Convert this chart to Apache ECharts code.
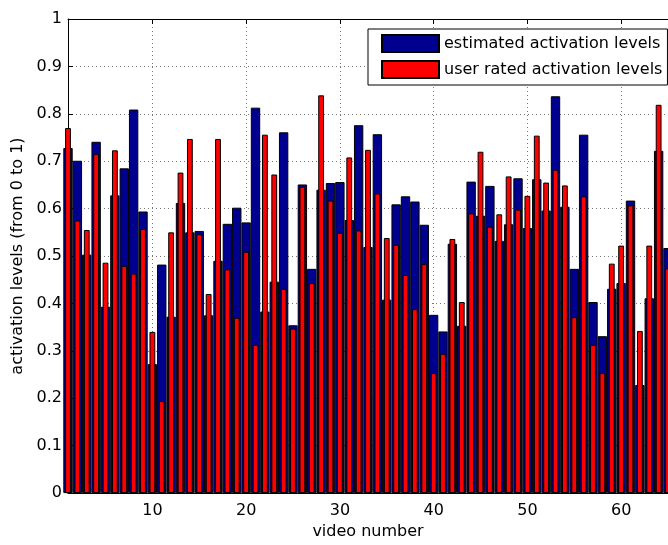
<!DOCTYPE html>
<html>
<head>
<meta charset="utf-8">
<script src="https://cdn.jsdelivr.net/npm/echarts@6/dist/echarts.min.js"></script>
<style>
html,body{margin:0;padding:0;background:#fff;}
#chart{width:668px;height:545px;}
</style>
</head>
<body>
<div id="chart"></div>
<script>
var videoNumbers = [];
for (var i = 1; i <= 65; i++) videoNumbers.push(i);

var estimated = [
  0.728, 0.701, 0.503, 0.741, 0.393, 0.628, 0.685, 0.809, 0.594, 0.272,
  0.482, 0.372, 0.612, 0.550, 0.553, 0.375, 0.490, 0.568, 0.602, 0.571,
  0.813, 0.383, 0.446, 0.761, 0.354, 0.651, 0.473, 0.640, 0.654, 0.656,
  0.576, 0.776, 0.519, 0.757, 0.408, 0.609, 0.626, 0.615, 0.566, 0.376,
  0.341, 0.526, 0.353, 0.657, 0.585, 0.648, 0.532, 0.567, 0.664, 0.559,
  0.662, 0.596, 0.837, 0.604, 0.473, 0.756, 0.403, 0.331, 0.431, 0.443,
  0.617, 0.228, 0.411, 0.722, 0.517
];

var userRated = [
  0.770, 0.575, 0.555, 0.715, 0.486, 0.723, 0.479, 0.463, 0.557, 0.340,
  0.194, 0.550, 0.676, 0.747, 0.546, 0.420, 0.747, 0.472, 0.370, 0.509,
  0.313, 0.756, 0.672, 0.431, 0.347, 0.646, 0.443, 0.839, 0.617, 0.549,
  0.708, 0.554, 0.724, 0.632, 0.538, 0.524, 0.460, 0.388, 0.483, 0.253,
  0.294, 0.536, 0.403, 0.590, 0.720, 0.562, 0.588, 0.668, 0.598, 0.627,
  0.754, 0.655, 0.682, 0.649, 0.371, 0.626, 0.313, 0.253, 0.484, 0.522,
  0.607, 0.342, 0.522, 0.819, 0.474
];

var xTicks = [10, 20, 30, 40, 50, 60];
var seriesNames = ['estimated activation levels', 'user rated activation levels'];

var FONT = 'DejaVu Sans';

function pairs(vals) {
  return vals.map(function (v, i) { return [videoNumbers[i], v]; });
}

var chart = echarts.init(document.getElementById('chart'), null, {renderer: 'canvas'});

var option = {
  animation: false,
  backgroundColor: '#fff',
  textStyle: {fontFamily: FONT},
  grid: {left: 68, right: 0, top: 19, bottom: 47, containLabel: false},
  legend: {
    orient: 'vertical',
    left: 368,
    top: 29,
    padding: [5, 5, 6, 13],
    itemGap: 7,
    itemWidth: 57,
    itemHeight: 17,
    icon: 'rect',
    backgroundColor: '#fff',
    borderColor: '#000',
    borderWidth: 1,
    borderRadius: 0,
    textStyle: {fontFamily: FONT, fontSize: 16, color: '#000'},
    data: seriesNames
  },
  xAxis: [
    {
      type: 'value',
      min: 1,
      max: 65,
      position: 'bottom',
      name: 'video number',
      nameLocation: 'middle',
      nameGap: 30,
      nameTextStyle: {fontFamily: FONT, fontSize: 16, color: '#000'},
      axisLine: {show: true, onZero: false, lineStyle: {color: '#000', width: 1}},
      axisTick: {show: true, inside: true, length: 5, customValues: xTicks, lineStyle: {color: '#000'}},
      axisLabel: {show: true, customValues: xTicks, margin: 10, fontFamily: FONT, fontSize: 16, color: '#000'},
      splitLine: {show: true, lineStyle: {type: [1, 3], color: '#777', width: 1}}
    },
    {
      type: 'value',
      min: 1,
      max: 65,
      position: 'top',
      axisLine: {show: true, onZero: false, lineStyle: {color: '#000', width: 1}},
      axisTick: {show: true, inside: true, length: 5, customValues: xTicks, lineStyle: {color: '#000'}},
      axisLabel: {show: false},
      splitLine: {show: false}
    }
  ],
  yAxis: {
    type: 'value',
    min: 0,
    max: 1,
    interval: 0.1,
    name: 'activation levels (from 0 to 1)',
    nameLocation: 'middle',
    nameGap: 40,
    nameTextStyle: {fontFamily: FONT, fontSize: 16, color: '#000'},
    axisLine: {show: true, lineStyle: {color: '#000', width: 1}},
    axisTick: {show: true, inside: true, length: 5, lineStyle: {color: '#000'}},
    axisLabel: {
      margin: 6, fontFamily: FONT, fontSize: 16, color: '#000',
      formatter: function (v) { return String(Math.round(v * 10) / 10); }
    },
    splitLine: {show: true, lineStyle: {type: [1, 3], color: '#777', width: 1}}
  },
  series: [
    {
      name: seriesNames[0],
      type: 'bar',
      xAxisIndex: 0,
      barWidth: '100%',
      itemStyle: {color: '#00008F', borderColor: '#000', borderWidth: 1},
      data: pairs(estimated)
    },
    {
      name: seriesNames[1],
      type: 'bar',
      xAxisIndex: 1,
      barWidth: '62%',
      itemStyle: {color: '#FF0000', borderColor: '#000', borderWidth: 1},
      data: pairs(userRated)
    }
  ]
};

chart.setOption(option);
</script>
</body>
</html>
